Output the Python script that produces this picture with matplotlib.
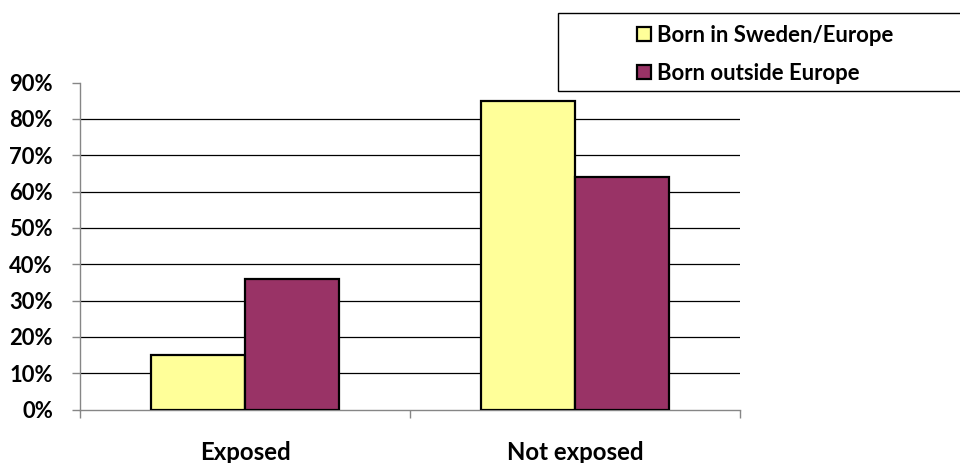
import matplotlib
matplotlib.use("Agg")
import matplotlib.pyplot as plt
from matplotlib.patches import Rectangle
import numpy as np

categories = ["Exposed", "Not exposed"]
series_names = ["Born in Sweden/Europe", "Born outside Europe"]
born_sweden_europe = [15, 85]
born_outside_europe = [36, 64]
series_values = [born_sweden_europe, born_outside_europe]
series_colors = ["#FFFF99", "#993366"]
y_ticks = list(range(0, 100, 10))
y_tick_labels = [f"{v}%" for v in y_ticks]

plt.rcParams["font.family"] = ["Lato", "DejaVu Sans"]

W, H = 960, 463
fig = plt.figure(figsize=(W / 100, H / 100), dpi=100)
ax = fig.add_axes([80 / W, 1 - 409.5 / H, 660 / W, 327 / H])

n_series = len(series_values)
gap = 1.5
bar_w = 1.0 / (n_series + gap)
x = np.arange(len(categories))
for i, (vals, col, name) in enumerate(zip(series_values, series_colors, series_names)):
    offs = (i - (n_series - 1) / 2) * bar_w
    ax.bar(x + offs, vals, width=bar_w, color=col, edgecolor="black",
           linewidth=1.6, label=name, zorder=3)

ax.set_xlim(-0.5, len(categories) - 0.5)
ax.set_ylim(0, 90)

# horizontal gridlines (none at the top of the scale)
for v in y_ticks[1:-1]:
    ax.axhline(v, color="black", linewidth=0.9, zorder=1)

for s in ["top", "right"]:
    ax.spines[s].set_visible(False)
for s in ["left", "bottom"]:
    ax.spines[s].set_color("#868686")
    ax.spines[s].set_linewidth(1.0)

ax.set_yticks(y_ticks)
ax.set_yticklabels(y_tick_labels, fontsize=15.8, fontweight="bold")
ax.tick_params(axis="y", direction="out", length=6, width=1.0, color="#868686", pad=13.5)

# category boundaries as x ticks; labels placed at category centres
ax.set_xticks(np.arange(len(categories) + 1) - 0.5)
ax.set_xticklabels([])
ax.tick_params(axis="x", direction="out", length=6, width=1.0, color="#868686")
for xi, cat in zip(x, categories):
    ax.text(xi, -50.5 / 327, cat, transform=ax.get_xaxis_transform(), ha="center",
            va="baseline", fontsize=17.3, fontweight="bold")

# legend box
fig.patches.append(Rectangle((558 / W, 1 - 91 / H), (W - 558) / W + 0.01, 78 / H,
                             transform=fig.transFigure, facecolor="white",
                             edgecolor="black", linewidth=1.0, clip_on=False))
row_baseline = [42, 80]
for name, col, by in zip(series_names, series_colors, row_baseline):
    fig.patches.append(Rectangle((637 / W, 1 - (by - 1) / H), 14 / W, 14 / H,
                                 transform=fig.transFigure, facecolor=col,
                                 edgecolor="black", linewidth=1.6))
    fig.text(657 / W, 1 - by / H, name, ha="left", va="baseline",
             fontsize=15.9, fontweight="bold")

fig.savefig("out.png", dpi=100)
